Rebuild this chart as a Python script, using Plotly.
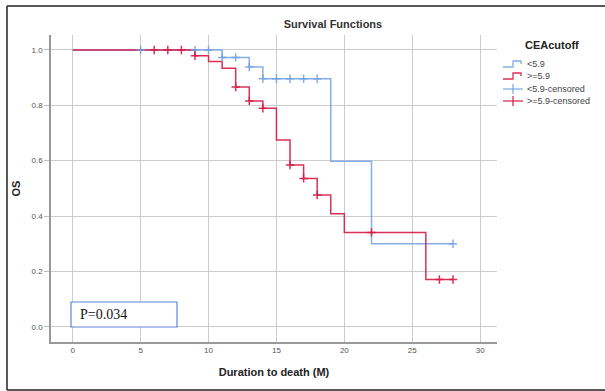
import plotly.graph_objects as go

# Blue group (<5.9): step curve
blue_t = [0, 11, 13, 14, 19, 22, 28]
blue_s = [1.0, 0.973, 0.938, 0.896, 0.598, 0.30, 0.30]
blue_cens_t = [5, 9, 10, 11, 12, 13, 14, 15, 16, 17, 18, 28]
blue_cens_s = [1.0, 1.0, 1.0, 0.973, 0.973, 0.938, 0.896, 0.896, 0.896, 0.896, 0.896, 0.30]

# Red group (>=5.9)
red_t = [0, 9, 10, 11, 12, 13, 14, 15, 16, 17, 18, 19, 20, 26, 28]
red_s = [1.0, 0.979, 0.958, 0.934, 0.866, 0.816, 0.789, 0.675, 0.584, 0.536, 0.476, 0.408, 0.341, 0.171, 0.171]
red_cens_t = [6, 7, 8, 9, 12, 13, 14, 16, 17, 18, 22, 27, 28]
red_cens_s = [1.0, 1.0, 1.0, 0.979, 0.866, 0.816, 0.789, 0.584, 0.536, 0.476, 0.341, 0.171, 0.171]

legend_names = ["<5.9", ">=5.9", "<5.9-censored", ">=5.9-censored"]
x_ticks = [0, 5, 10, 15, 20, 25, 30]
y_ticks = [0.0, 0.2, 0.4, 0.6, 0.8, 1.0]

BLUE = "rgba(110,160,225,0.85)"
RED = "rgba(215,25,70,0.9)"

fig = go.Figure()
fig.add_trace(go.Scatter(x=blue_t, y=blue_s, mode="lines", line=dict(shape="hv", color=BLUE, width=1.5), name=legend_names[0]))
fig.add_trace(go.Scatter(x=red_t, y=red_s, mode="lines", line=dict(shape="hv", color=RED, width=1.5), name=legend_names[1]))
fig.add_trace(go.Scatter(x=blue_cens_t, y=blue_cens_s, mode="markers",
                         marker=dict(symbol="cross-thin", size=6, line=dict(color=BLUE, width=1.5)),
                         name=legend_names[2]))
fig.add_trace(go.Scatter(x=red_cens_t, y=red_cens_s, mode="markers",
                         marker=dict(symbol="cross-thin", size=6, line=dict(color=RED, width=1.5)),
                         name=legend_names[3]))

W, H = 605, 391
L, R, T, B = 51, 108, 35, 49
pw, ph = W - L - R, H - T - B

def px(xp):
    return (xp - L) / pw

def py(yp):
    return 1 - (yp - T) / ph

shapes = [
    # frame lines around image
    dict(type="line", xref="paper", yref="paper", x0=px(7), x1=px(7), y0=py(6), y1=py(390), line=dict(color="#222", width=1.5)),
    dict(type="line", xref="paper", yref="paper", x0=px(7), x1=px(605), y0=py(6), y1=py(6), line=dict(color="#222", width=1.5)),
    dict(type="line", xref="paper", yref="paper", x0=px(7), x1=px(605), y0=py(390), y1=py(390), line=dict(color="#222", width=1.5)),
    # P-value box
    dict(type="rect", xref="paper", yref="paper", x0=px(71), x1=px(177), y0=py(327), y1=py(302),
         line=dict(color="#5b86d6", width=1.2), fillcolor="white"),
]

annotations = [
    dict(text="P=0.034", xref="paper", yref="paper", x=px(78), y=py(314.5), xanchor="left", yanchor="middle",
         showarrow=False, font=dict(family="Liberation Serif", size=14, color="#111")),
    dict(text="<b>CEAcutoff</b>", xref="paper", yref="paper", x=px(552), y=py(45), xanchor="center", yanchor="middle",
         showarrow=False, font=dict(family="Liberation Sans", size=11, color="#222")),
]

# manual legend
leg_y = [64, 76, 89, 101]
leg_col = [BLUE, RED, BLUE, RED]
for i, (name, yy, col) in enumerate(zip(legend_names, leg_y, leg_col)):
    if i < 2:
        path = "M%f,%f L%f,%f L%f,%f L%f,%f L%f,%f" % (
            px(503), py(yy + 3), px(513), py(yy + 3), px(513), py(yy - 3), px(521), py(yy - 3), px(521), py(yy))
        shapes.append(dict(type="path", xref="paper", yref="paper", path=path, line=dict(color=col, width=1.3)))
    else:
        shapes.append(dict(type="line", xref="paper", yref="paper", x0=px(503), x1=px(523), y0=py(yy), y1=py(yy),
                           line=dict(color=col, width=1.3)))
        shapes.append(dict(type="line", xref="paper", yref="paper", x0=px(513), x1=px(513), y0=py(yy - 5), y1=py(yy + 5),
                           line=dict(color=col, width=1.3)))
    annotations.append(dict(text=name, xref="paper", yref="paper", x=px(525), y=py(yy), xanchor="left", yanchor="middle",
                            showarrow=False, font=dict(family="Liberation Sans", size=9, color="#444")))

fig.update_layout(
    width=W, height=H,
    margin=dict(l=L, r=R, t=T, b=B, autoexpand=False),
    paper_bgcolor="white", plot_bgcolor="white",
    title=dict(text="<b>Survival Functions</b>", x=(333) / W, xanchor="center", y=1 - 24 / H, yanchor="middle",
               font=dict(family="Liberation Sans", size=11, color="#333")),
    font=dict(family="Liberation Sans", color="#444"),
    shapes=shapes,
    annotations=annotations,
    showlegend=False,
)
fig.update_xaxes(range=[-1.6, 31.24], tickvals=x_ticks, ticktext=[str(v) for v in x_ticks],
                 showgrid=True, gridcolor="#cccccc", gridwidth=1.3, zeroline=False,
                 showline=True, linecolor="#999", linewidth=1.5, ticks="", tickfont=dict(size=8, color="#555"),
                 title=dict(text="<b>Duration to death (M)</b>", font=dict(size=11, color="#222"), standoff=14))
fig.update_yaxes(range=[-0.055, 1.054], tickvals=y_ticks, ticktext=["%.1f" % v for v in y_ticks],
                 showgrid=True, gridcolor="#cccccc", gridwidth=1.3, zeroline=False,
                 showline=True, linecolor="#999", linewidth=1.5, ticks="outside", ticklen=5, tickcolor="#bbb",
                 tickfont=dict(size=8, color="#555"),
                 title=dict(text="<b>OS</b>", font=dict(size=11, color="#222"), standoff=9))

fig.write_html("out.html")
